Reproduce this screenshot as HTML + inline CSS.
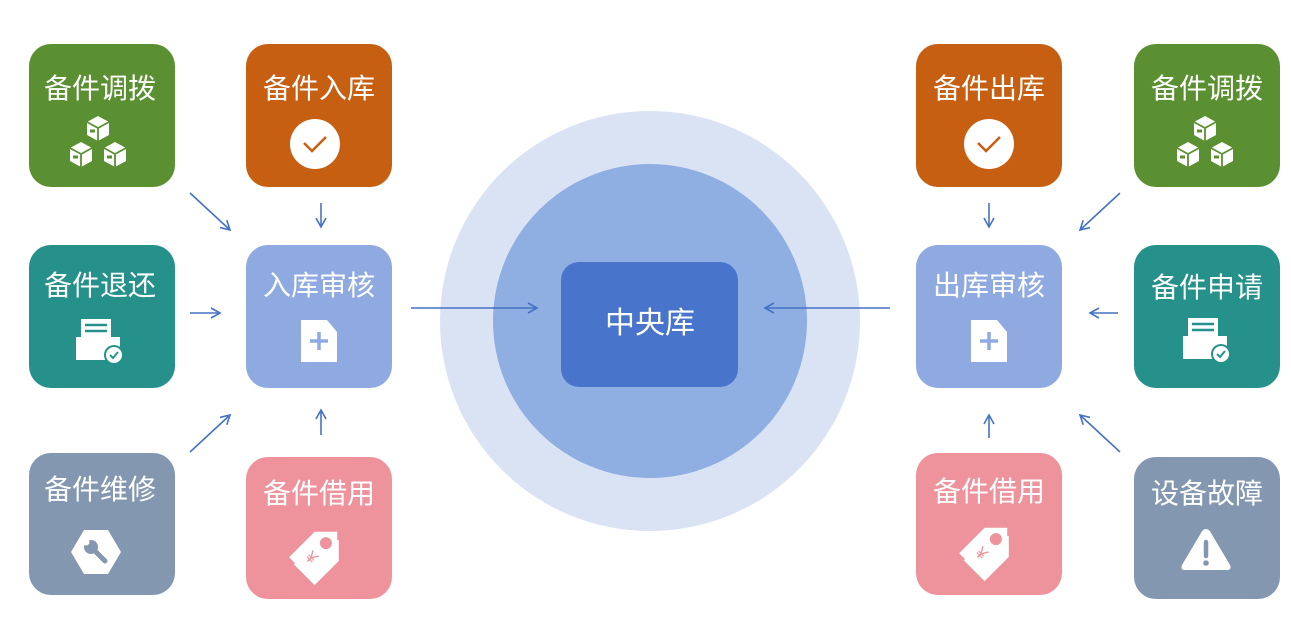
<!DOCTYPE html>
<html><head><meta charset="utf-8"><style>
html,body{margin:0;padding:0;background:#fff;}
svg{display:block;}
text{font-family:"Liberation Sans","Noto Sans CJK SC",sans-serif;fill:#fff;text-anchor:middle;}
</style></head><body>
<svg width="1291" height="631" viewBox="0 0 1291 631" xmlns="http://www.w3.org/2000/svg">
<defs>
<marker id="ah" markerWidth="12" markerHeight="12" refX="10" refY="6" orient="auto" markerUnits="userSpaceOnUse">
<path d="M1,1 L10,6 L1,11" fill="none" stroke="#4472c4" stroke-width="1.6"/>
</marker>
<g id="cube">
<path d="M0,-12 L11,-6 L11,7 L0,13 L-11,7 L-11,-6Z" fill="#fff"/>
<path d="M-11,-6 L0,0 L11,-6 M0,0 L0,13" stroke="#5a8f32" stroke-width="1.8" fill="none"/>
<rect x="-8" y="1.5" width="5" height="3" fill="#5a8f32"/>
</g>
<g id="boxes"><use href="#cube" x="0" y="-13"/><use href="#cube" x="-17" y="13"/><use href="#cube" x="17" y="13"/></g>
<g id="check"><circle r="25" fill="#fff"/><path d="M-11,-1 L-3,7 L11,-7" stroke="#c75f12" stroke-width="2.5" fill="none"/></g>
<g id="doc"><path d="M-18,-21 L8,-21 L18,-9 L18,21 L-18,21Z" fill="#fff"/><path d="M0,-9 V9 M-9,0 H9" stroke="#8faae0" stroke-width="3.5"/></g>
<g id="printer"><rect x="-18" y="-22" width="30" height="20" fill="#fff"/><path d="M-14,-16 H8 M-14,-10 H8" stroke="#25918a" stroke-width="2.5"/><rect x="-23" y="-4" width="44" height="23" fill="#fff"/><circle cx="15" cy="14" r="10" fill="#25918a"/><circle cx="15" cy="14" r="8" fill="#fff"/><path d="M11,14 L14,17 L19,11" stroke="#25918a" stroke-width="2" fill="none"/></g>
<g id="wrench"><path d="M-25,0 L-12,-22 L12,-22 L25,0 L12,22 L-12,22Z" fill="#fff"/><circle cx="-5" cy="-5" r="7" fill="#8497b0"/><path d="M-5,-5 L9,9" stroke="#8497b0" stroke-width="5" stroke-linecap="round"/><circle cx="-10" cy="-10" r="3.5" fill="#fff"/></g>
<g id="tag"><g transform="rotate(45)">
<path d="M0,-30 L16,-14 L16,22 L-16,22 L-16,-14Z" fill="#fff" stroke="#ee939c" stroke-width="2.5" transform="translate(7,3)"/>
<path d="M0,-30 L16,-14 L16,22 L-16,22 L-16,-14Z" fill="#fff"/>
<circle cx="0" cy="-14" r="6" fill="#ee939c"/>
<text x="0" y="12" style="fill:#ee939c;font-size:17px">¥</text></g></g>
<g id="warn"><path d="M0,-22 Q3,-22 5,-18 L24,14 Q26,19 21,19 L-21,19 Q-26,19 -24,14 L-5,-18 Q-3,-22 0,-22Z" fill="#fff"/><path d="M0,-9 V5" stroke="#8497b0" stroke-width="4.5" stroke-linecap="round"/><circle cx="0" cy="12" r="2.8" fill="#8497b0"/></g>
</defs>

<circle cx="650" cy="321" r="210" fill="#dae3f4"/>
<circle cx="650" cy="321" r="157" fill="#8faee2"/>
<rect x="561" y="262" width="177" height="125" rx="18" fill="#4874cb"/>
<text x="650" y="333" style="font-size:30px">中央库</text>

<rect x="29" y="44" width="146" height="143" rx="22" fill="#5a8f32"/><text x="100" y="98" style="font-size:28px">备件调拨</text><use href="#boxes" x="98" y="141"/>
<rect x="246" y="44" width="146" height="143" rx="22" fill="#c75f12"/><text x="319" y="98" style="font-size:28px">备件入库</text><use href="#check" x="315" y="144"/>
<rect x="29" y="245" width="146" height="143" rx="22" fill="#25918a"/><text x="100" y="295" style="font-size:28px">备件退还</text><use href="#printer" x="99" y="341"/>
<rect x="246" y="245" width="146" height="143" rx="22" fill="#8faae0"/><text x="319" y="295" style="font-size:28px">入库审核</text><use href="#doc" x="319" y="341"/>
<rect x="29" y="453" width="146" height="142" rx="22" fill="#8497b0"/><text x="100" y="499" style="font-size:28px">备件维修</text><use href="#wrench" x="96" y="552"/>
<rect x="246" y="457" width="146" height="142" rx="22" fill="#ee939c"/><text x="319" y="503" style="font-size:28px">备件借用</text><use href="#tag" x="316" y="553"/>

<rect x="916" y="44" width="146" height="143" rx="22" fill="#c75f12"/><text x="989" y="98" style="font-size:28px">备件出库</text><use href="#check" x="989" y="144"/>
<rect x="1134" y="44" width="146" height="143" rx="22" fill="#5a8f32"/><text x="1207" y="98" style="font-size:28px">备件调拨</text><use href="#boxes" x="1205" y="141"/>
<rect x="916" y="245" width="146" height="143" rx="22" fill="#8faae0"/><text x="989" y="295" style="font-size:28px">出库审核</text><use href="#doc" x="989" y="341"/>
<rect x="1134" y="245" width="146" height="143" rx="22" fill="#25918a"/><text x="1207" y="297" style="font-size:28px">备件申请</text><use href="#printer" x="1206" y="340"/>
<rect x="916" y="453" width="146" height="142" rx="22" fill="#ee939c"/><text x="989" y="501" style="font-size:28px">备件借用</text><use href="#tag" x="986" y="549"/>
<rect x="1134" y="457" width="146" height="142" rx="22" fill="#8497b0"/><text x="1207" y="503" style="font-size:28px">设备故障</text><use href="#warn" x="1206" y="551"/>

<g stroke="#4472c4" stroke-width="1.6" fill="none" marker-end="url(#ah)">
<line x1="190" y1="193" x2="230" y2="230"/>
<line x1="321" y1="203" x2="321" y2="227"/>
<line x1="190" y1="313" x2="220" y2="313"/>
<line x1="190" y1="452" x2="230" y2="415"/>
<line x1="321" y1="435" x2="321" y2="410"/>
<line x1="411" y1="308" x2="537" y2="308"/>
<line x1="1120" y1="193" x2="1080" y2="230"/>
<line x1="989" y1="203" x2="989" y2="227"/>
<line x1="1118" y1="313" x2="1090" y2="313"/>
<line x1="1120" y1="452" x2="1080" y2="415"/>
<line x1="989" y1="438" x2="989" y2="415"/>
<line x1="890" y1="308" x2="765" y2="308"/>
</g>
</svg>
</body></html>
